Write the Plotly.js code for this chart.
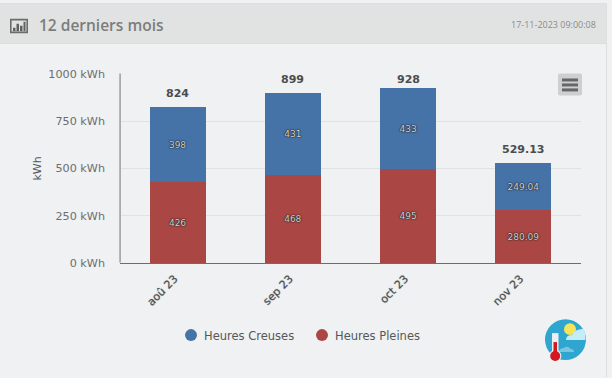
<!DOCTYPE html>
<html>
<head>
<meta charset="utf-8">
<script src="https://cdn.plot.ly/plotly-3.0.1.min.js"></script>
<style>html,body{margin:0;padding:0;background:#eff1f3;overflow:hidden}</style>
</head>
<body>
<div id="chart" style="width:612px;height:378px"></div>
<script>
const categories = ["aoû 23", "sep 23", "oct 23", "nov 23"];
const heuresCreuses = [398, 431, 433, 249.04];
const heuresPleines = [426, 468, 495, 280.09];
const totals = [824, 899, 928, 529.13];
const totalLabelShift = [5, 5, 0, 5];
const yTicks = [0, 250, 500, 750, 1000];

const W = 612, H = 378, mL = 120, mR = 31, mT = 73.5, mB = 114.5;
const pw = W - mL - mR, ph = H - mT - mB;
const px = x => (x - mL) / pw;
const py = y => (H - mB - y) / ph;
const FONT = '"DejaVu Sans", sans-serif';
const rect = (x0, y0, x1, y1, fill, layer) => ({type:'rect', xref:'paper', yref:'paper', x0:px(x0), x1:px(x1), y0:py(y0), y1:py(y1), fillcolor:fill, line:{width:0}, layer:layer||'below'});
const circ = (cx, cy, r, fill) => ({type:'circle', xref:'paper', yref:'paper', x0:px(cx-r), x1:px(cx+r), y0:py(cy-r), y1:py(cy+r), fillcolor:fill, line:{width:0}, layer:'above'});

const shapes = [
  rect(0, 2.5, 607, 4, '#d9dbdc'),
  rect(0, 4, 606, 42, '#e1e3e2'),
  rect(0, 42, 606, 43, '#d5d7d8'),
  rect(606, 3, 607, 378, '#dcdee0'),
  rect(119.2, 73, 121, 263, '#a9abac', 'above'),
  // header icon
  {type:'rect', xref:'paper', yref:'paper', x0:px(10.8), x1:px(27.2), y0:py(18.8), y1:py(31.7), fillcolor:'rgba(0,0,0,0)', line:{color:'#6b6d6d', width:1.6}, layer:'above'},
  rect(13, 27, 15.5, 30.5, '#5f6161', 'above'),
  rect(16.5, 23, 19, 30.5, '#5f6161', 'above'),
  rect(20, 25, 22.5, 30.5, '#5f6161', 'above'),
  rect(23.5, 21, 25.5, 30.5, '#5f6161', 'above'),
  // menu button
  {type:'path', xref:'paper', yref:'paper', path:`M${px(560)},${py(73)} L${px(580)},${py(73)} Q${px(582)},${py(73)} ${px(582)},${py(75)} L${px(582)},${py(93)} Q${px(582)},${py(95)} ${px(580)},${py(95)} L${px(560)},${py(95)} Q${px(558)},${py(95)} ${px(558)},${py(93)} L${px(558)},${py(75)} Q${px(558)},${py(73)} ${px(560)},${py(73)} Z`, fillcolor:'#cdcfd0', line:{width:0}, layer:'above'},
  rect(562, 78, 578, 81, '#666666', 'above'),
  rect(562, 83, 578, 86, '#666666', 'above'),
  rect(562, 88, 578, 91, '#666666', 'above'),
  // weather icon
  circ(565.5, 340.5, 20.5, '#2fa6cf'),
  circ(570, 330, 6, '#f7e35a'),
  {type:'path', xref:'paper', yref:'paper', path:`M${px(566)},${py(341)} Q${px(566)},${py(336)} ${px(572)},${py(336)} Q${px(576)},${py(329)} ${px(584)},${py(330)} Q${px(586)},${py(336)} ${px(585.5)},${py(341)} Z`, fillcolor:'#c6ecf7', line:{width:0}, layer:'above'},
  {type:'path', xref:'paper', yref:'paper', path:`M${px(558)},${py(353)} Q${px(560)},${py(349)} ${px(564)},${py(349)} Q${px(567)},${py(346)} ${px(571)},${py(350)} Q${px(574)},${py(350)} ${px(574)},${py(353)} Z`, fillcolor:'#79c5e0', line:{width:0}, layer:'above'},
  rect(552, 334, 558.5, 353, '#eeeeee', 'above'),
  circ(555.2, 357, 6.2, '#eeeeee'),
  rect(553.5, 343, 557, 353, '#cf1a22', 'above'),
  circ(555.2, 357, 5, '#cf1a22')
];

const labelFont = {family:FONT, size:9, color:'#d0d0d0', shadow:'0 0 1px #222, 0 0 1px #222, 0 0 2px #333'};

const data = [
  {type:'bar', name:'Heures Pleines', x:categories, y:heuresPleines, marker:{color:'#AA4643', line:{width:0}}, showlegend:false, width:0.486,
   text:heuresPleines.map(String), textposition:'inside', insidetextanchor:'middle', textangle:0, constraintext:'none', textfont:labelFont, hoverinfo:'x+y'},
  {type:'bar', name:'Heures Creuses', x:categories, y:heuresCreuses, marker:{color:'#4572A7', line:{width:0}}, showlegend:false, width:0.486,
   text:heuresCreuses.map(String), textposition:'inside', insidetextanchor:'middle', textangle:0, constraintext:'none', textfont:labelFont, hoverinfo:'x+y'},
  {type:'scatter', mode:'markers', name:'Heures Creuses', x:[null], y:[null], marker:{color:'#4572A7', size:12, symbol:'circle'}},
  {type:'scatter', mode:'markers', name:'Heures Pleines', x:[null], y:[null], marker:{color:'#AA4643', size:12, symbol:'circle'}}
];

const layout = {
  width:W, height:H, autosize:false,
  margin:{l:mL, r:mR, t:mT, b:mB, pad:0},
  paper_bgcolor:'#eff1f3', plot_bgcolor:'rgba(0,0,0,0)',
  barmode:'stack', bargap:0.514,
  font:{family:FONT, color:'#6e6e6e'},
  title:{text:'12 derniers mois', font:{family:'"Open Sans", sans-serif', size:15.5, weight:600, color:'#7b7d7d'}, xref:'container', yref:'container', x:39/W, xanchor:'left', y:1-26/H, yanchor:'middle'},
  xaxis:{type:'category', categoryorder:'array', categoryarray:categories, tickangle:-45, showgrid:false, showline:true, linecolor:'#6b6d70', linewidth:1, ticks:'', tickfont:{family:FONT, size:11, color:'#4d5052', shadow:'0 0 1px #888'}, fixedrange:true, zeroline:false, ticklabelstandoff:4, ticklabelshift:-3},
  yaxis:{range:[0,1000], tickvals:yTicks, ticktext:yTicks.map(v=>v+' kWh'), showgrid:true, gridcolor:'#dfe1e3', gridwidth:1, showline:false, ticks:'', tickfont:{family:FONT, size:11.2, color:'#6e6e6e'}, zeroline:false, fixedrange:true, ticklabelstandoff:14,
    title:{text:'kWh', font:{family:FONT, size:11, color:'#55585a'}, standoff:4}},
  legend:{orientation:'h', traceorder:'normal', x:px(295), xanchor:'center', y:py(336), yanchor:'middle', font:{family:FONT, size:11.5, color:'#55585a'}, itemclick:false, itemdoubleclick:false, bgcolor:'rgba(0,0,0,0)', entrywidth:86, entrywidthmode:'pixels'},
  shapes:shapes,
  annotations:[
    {text:'17-11-2023 09:00:08', xref:'paper', yref:'paper', x:px(598), y:py(23.5), xanchor:'right', yanchor:'middle', showarrow:false, font:{family:'"Open Sans", sans-serif', size:9, color:'#8a8c8c'}}
  ].concat(totals.map((t, i) => ({text:String(t), x:categories[i], y:t, xref:'x', yref:'y', xanchor:'center', yanchor:'bottom', yshift:totalLabelShift[i], showarrow:false, font:{family:FONT, size:11, color:'#4d4d4d', weight:700}}))),
  hovermode:'closest', showlegend:true
};
Plotly.newPlot('chart', data, layout, {displayModeBar:false, responsive:false}).then(gd => {
  gd.querySelectorAll('.legend .legendsymbols').forEach(g => g.setAttribute('transform', 'translate(7,0)'));
});
</script>
</body>
</html>
